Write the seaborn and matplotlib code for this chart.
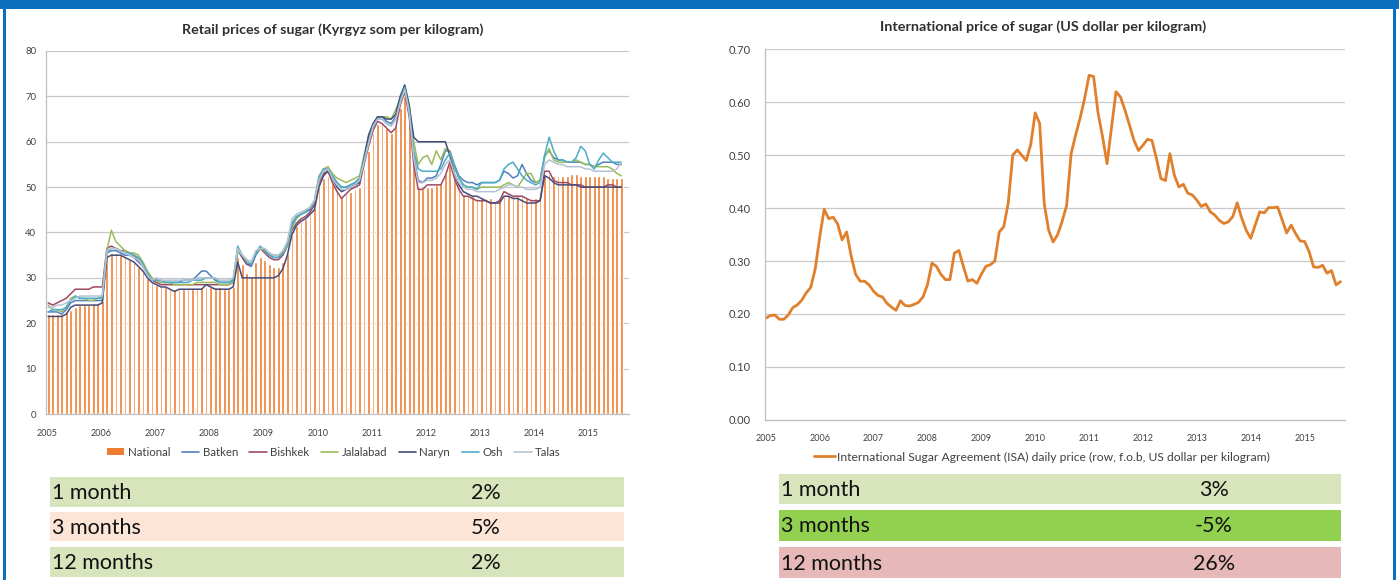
import numpy as np
import pandas as pd
import matplotlib
matplotlib.use("Agg")
import matplotlib.pyplot as plt
from matplotlib.patches import Rectangle, Patch
from matplotlib.lines import Line2D
from matplotlib.ticker import FormatStrFormatter
import seaborn as sns

# Retail prices of sugar, som per kg, monthly from Jan 2005
national = [22, 22, 22, 22, 22.5, 23, 23.5, 24, 24, 24, 24.5, 24.5,
            25, 35, 35.5, 35.5, 35, 34.5, 34, 33.5, 32.5, 31.5, 30, 29,
            28.5, 28, 28, 27.5, 27.5, 27.5, 27.5, 27.5, 27.5, 27.5, 28, 28,
            28, 28, 28, 27.5, 27.5, 28, 34.5, 33, 31, 30.5, 33.5, 34.5,
            34, 33, 32.5, 32.5, 33.5, 35.5, 39.5, 41.5, 42.5, 43, 44, 45.5,
            50, 52, 52.5, 51, 49.5, 48, 48.5, 49, 49.5, 50, 54, 58,
            62, 64, 64, 63, 62, 63.5, 67.5, 70, 65, 55, 50, 49.5,
            50, 50, 50.5, 51, 53, 55, 52, 50, 48.5, 48, 48, 47.5,
            47.5, 47.5, 47.5, 47, 47.5, 48, 48, 48, 48, 48, 47.5, 47.5,
            47.5, 48, 53, 53, 52.5, 52.5, 52.5, 52.5, 53, 53, 52.5, 52.5,
            52.5, 52.5, 52.5, 52.5, 52, 52, 52, 52]
batken = [22.5, 22.5, 22.5, 22, 23, 24.5, 25, 25, 25, 25, 25, 25,
          25, 35.5, 36, 36, 35.5, 35, 35, 34.5, 33.5, 32.5, 31, 29.5,
          29.5, 29, 29, 29, 29, 29, 29.5, 29.5, 29.5, 30.5, 31.5, 31.5,
          30.5, 29.5, 29, 29, 29, 29.5, 36, 34.5, 33, 32.5, 35, 36.5,
          36, 35, 34.5, 34.5, 35.5, 37.5, 42, 43.5, 44, 44.5, 45, 46.5,
          52, 53.5, 54, 52.5, 51, 50, 50, 50.5, 51, 52, 56, 60,
          63.5, 65.5, 65.5, 64.5, 64, 65.5, 69, 72, 67, 57, 51.5, 51,
          52, 52, 52.5, 55, 58, 58, 55, 52.5, 51.5, 51, 51, 50.5,
          51, 51, 51, 51, 51.5, 53.5, 53, 52, 52.5, 55, 53, 51.5,
          51, 51.5, 57, 58, 56.5, 56, 56, 55.5, 55.5, 55.5, 55.5, 55,
          55, 54.5, 55, 55.5, 55.5, 55.5, 55, 55]
bishkek = [24.5, 24, 24.5, 25, 25.5, 26.5, 27.5, 27.5, 27.5, 27.5, 28, 28,
           28, 36.5, 37, 36.5, 36, 36, 35.5, 35, 34, 32.5, 31, 29.5,
           29, 28.5, 28.5, 28.5, 28.5, 28.5, 28.5, 28.5, 28.5, 28.5, 28.5, 28.5,
           28.5, 28.5, 28.5, 28.5, 28.5, 29, 36.5, 34.5, 33, 33, 35.5, 36.5,
           35.5, 34.5, 34, 34, 35, 37, 40.5, 42, 43, 43.5, 44.5, 46,
           51, 53, 53.5, 51, 49, 47.5, 48.5, 49.5, 50, 50.5, 55, 59,
           62.5, 64.5, 64, 63, 62, 63, 68, 71, 65.5, 55, 49.5, 49.5,
           50.5, 50.5, 50.5, 50.5, 52.5, 55.5, 52, 49.5, 48, 48, 47.5, 47,
           47, 47, 46.5, 46.5, 47, 49, 48.5, 48, 48, 48, 47.5, 47,
           47, 47, 53.5, 53.5, 51.5, 51, 51, 51, 50.5, 50.5, 50.5, 50,
           50, 50, 50, 50, 50.5, 50.5, 50, 50]
jalalabad = [24, 23, 23, 22.5, 23.5, 25.5, 26, 25.5, 25.5, 25, 25, 25.5,
             26, 36, 40.5, 38, 37, 36, 35.5, 35.5, 35, 33.5, 31.5, 30,
             29.5, 29, 29, 29, 28.5, 28.5, 28.5, 28.5, 28.5, 29, 29, 29,
             29, 29, 28.5, 28.5, 28.5, 29, 36, 35, 34, 33.5, 35.5, 36.5,
             36, 35.5, 35, 35, 35.5, 37, 41, 43, 44, 44.5, 45.5, 47,
             52.5, 54, 54.5, 53, 52, 51.5, 51, 51.5, 52, 52.5, 57, 61,
             64, 65.5, 65.5, 65.5, 65, 67, 69.5, 72.5, 68, 60, 55, 56.5,
             57, 55, 58, 56, 58.5, 58, 54.5, 52, 50.5, 50, 50, 49.5,
             50, 50, 50, 50, 50, 50.5, 51, 50.5, 50, 51.5, 53, 53,
             51, 51.5, 56.5, 58.5, 56, 55.5, 55.5, 55.5, 55.5, 56, 55.5, 55,
             55, 54.5, 54.5, 54.5, 54.5, 54, 53, 52.5]
naryn = [21.5, 21.5, 21.5, 21.5, 22, 23.5, 24, 24, 24, 24, 24, 24,
         24.5, 34.5, 35, 35, 35, 34.5, 34, 33.5, 32.5, 31.5, 30, 29,
         28.5, 28, 28, 27.5, 27, 27.5, 27.5, 27.5, 27.5, 27.5, 27.5, 28.5,
         28, 27.5, 27.5, 27.5, 27.5, 28, 33.5, 30, 30, 30, 30, 30,
         30, 30, 30, 30.5, 32, 35, 39.5, 41.5, 42.5, 43, 44, 45,
         50, 52.5, 53.5, 52, 50, 49, 49.5, 50, 50.5, 51, 56.5, 61.5,
         64, 65.5, 65.5, 65, 65, 66, 70, 72.5, 68, 61, 60, 60,
         60, 60, 60, 60, 60, 57, 53, 50.5, 49, 48.5, 48, 48,
         47.5, 47, 46.5, 46.5, 46.5, 48, 48, 47.5, 47.5, 47, 46.5, 46.5,
         46.5, 47, 52.5, 52, 51, 50.5, 50.5, 50.5, 50.5, 50.5, 50, 50,
         50, 50, 50, 50, 50, 50, 50, 50]
osh = [22.5, 23, 23, 23, 23.5, 25, 26, 25.5, 25.5, 25.5, 25.5, 25.5,
       25.5, 35.5, 36.5, 36.5, 36, 35.5, 35.5, 35, 34.5, 33, 31, 29.5,
       29.5, 29.5, 29, 29, 29, 29, 29, 29, 29.5, 29.5, 29.5, 30,
       30, 30, 29, 29, 29, 29.5, 37, 35, 33.5, 33, 35.5, 37,
       36, 35, 34.5, 34.5, 35.5, 37.5, 41.5, 43.5, 44, 44.5, 45.5, 47,
       52, 54, 54, 52.5, 51, 50, 50, 50.5, 51, 52, 56, 60,
       63, 65, 65, 64, 63.5, 65, 69, 72, 67, 58, 54, 53.5,
       53.5, 53.5, 53.5, 54, 56, 57.5, 54.5, 52, 50.5, 50, 50, 49.5,
       51, 51, 51, 51, 51.5, 54, 55, 55.5, 54, 52.5, 51.5, 51,
       50.5, 51, 57, 61, 58, 56, 56, 55.5, 55.5, 56.5, 59, 58,
       55, 54, 56, 57.5, 56.5, 55.5, 55.5, 55.5]
talas = [23.5, 23.5, 24, 24, 24.5, 25, 25.5, 26, 26, 26, 26, 26,
         26, 36, 36.5, 36.5, 36, 35.5, 35, 34.5, 34, 32.5, 30.5, 29.5,
         30, 29.5, 29.5, 29.5, 29.5, 29.5, 29.5, 29.5, 29.5, 30, 30, 30,
         30, 30, 29.5, 29.5, 29.5, 30, 36.5, 35, 34, 33.5, 36, 36.5,
         36.5, 35.5, 35, 35, 36, 38, 43, 44, 44.5, 45, 45.5, 47,
         51.5, 53.5, 54, 52, 50.5, 49.5, 49.5, 50, 50.5, 51.5, 55.5, 59.5,
         63.5, 65, 65, 64, 63.5, 65, 68.5, 71.5, 66.5, 56.5, 51, 51,
         51.5, 51.5, 52, 53, 55, 56, 53, 51, 50, 49.5, 49.5, 49,
         49, 49, 49, 49, 49.5, 50, 50.5, 50.5, 50, 50, 49.5, 49.5,
         49.5, 50, 55, 56, 55.5, 55, 55, 54.5, 54.5, 54.5, 54.5, 54,
         54, 53.5, 53.5, 53.5, 53.5, 53.5, 54, 55.5]

# ISA daily price, US dollar per kg, monthly from Jan 2005
isa_price = [0.192, 0.197, 0.198, 0.190, 0.190, 0.198, 0.212, 0.217, 0.226, 0.240, 0.250, 0.285,
             0.345, 0.398, 0.380, 0.383, 0.370, 0.340, 0.355, 0.310, 0.275, 0.262, 0.262, 0.255,
             0.243, 0.235, 0.232, 0.220, 0.213, 0.207, 0.225, 0.216, 0.215, 0.218, 0.222, 0.232,
             0.255, 0.296, 0.290, 0.275, 0.265, 0.265, 0.315, 0.320, 0.290, 0.262, 0.265, 0.258,
             0.275, 0.290, 0.293, 0.300, 0.355, 0.365, 0.410, 0.500, 0.510, 0.500, 0.490, 0.520,
             0.580, 0.560, 0.409, 0.358, 0.336, 0.350, 0.375, 0.405, 0.503, 0.538, 0.570, 0.607,
             0.651, 0.649, 0.580, 0.535, 0.484, 0.553, 0.620, 0.610, 0.585, 0.557, 0.528, 0.509,
             0.519, 0.530, 0.528, 0.494, 0.456, 0.452, 0.503, 0.462, 0.440, 0.445, 0.428, 0.425,
             0.415, 0.403, 0.408, 0.393, 0.387, 0.377, 0.371, 0.374, 0.384, 0.410, 0.381, 0.358,
             0.343, 0.368, 0.393, 0.391, 0.401, 0.401, 0.402, 0.378, 0.353, 0.368, 0.352, 0.338,
             0.337, 0.318, 0.289, 0.288, 0.292, 0.277, 0.282, 0.255, 0.261]

regions = ["Batken", "Bishkek", "Jalalabad", "Naryn", "Osh", "Talas"]
region_prices = [batken, bishkek, jalalabad, naryn, osh, talas]
years = list(range(2005, 2016))

periods = ["1 month", "3 months", "12 months"]
retail_change = ["2%", "5%", "2%"]
world_change = ["3%", "-5%", "26%"]

region_colors = {"Batken": "#4F81BD", "Bishkek": "#A04A62", "Jalalabad": "#9BBB59",
                 "Naryn": "#454C7A", "Osh": "#4BACC6", "Talas": "#B5C2D6"}
orange = "#ED7D31"
grid_c = "#c8c8c8"

sns.set_style("white")
plt.rcParams["font.family"] = ["Lato", "DejaVu Sans"]

W, H = 1399, 580
fig = plt.figure(figsize=(W / 100, H / 100), dpi=100)
fx = lambda px: px / W
fy = lambda py: 1 - py / H

# left: retail prices
ax1 = fig.add_axes([fx(46), fy(414), 583 / W, 363 / H])
xpos = 2005 + (np.arange(len(national)) + 0.3) / 12
df_nat = pd.DataFrame({"x": xpos, "price": national})
sns.barplot(data=df_nat, x="x", y="price", native_scale=True, width=0.6,
            color=orange, saturation=1, errorbar=None, ax=ax1, zorder=2)
long = pd.concat([pd.DataFrame({"x": xpos, "price": p, "region": r})
                  for r, p in zip(regions, region_prices)])
sns.lineplot(data=long, x="x", y="price", hue="region", palette=region_colors,
             linewidth=1.1, legend=False, ax=ax1, zorder=3)

# right: international price
ax2 = fig.add_axes([fx(765), fy(419.8), 580 / W, 370.4 / H])
xisa = 2005 + np.arange(len(isa_price)) / 12
sns.lineplot(x=xisa, y=isa_price, color="#E07F2C", linewidth=2.0, ax=ax2)

for ax, ymax, step in [(ax1, 80, 10), (ax2, 0.7, 0.1)]:
    ax.set_xlim(2004.985, 2004.985 + (583 if ax is ax1 else 580) / (54.3 if ax is ax1 else 54))
    ax.set_ylim(0, ymax)
    ax.set_yticks(np.arange(0, ymax + step / 2, step))
    ax.set_xticks(years)
    ax.set_xticks(2005 + np.arange(0, 130) / 12, minor=True)
    ax.set_xticklabels([str(y) for y in years])
    ax.yaxis.grid(True, color=grid_c, lw=0.9)
    ax.xaxis.grid(False)
    ax.set_axisbelow(True)
    for s in ["top", "right"]:
        ax.spines[s].set_visible(False)
    for s in ["left", "bottom"]:
        ax.spines[s].set_color("#bfbfbf")
        ax.spines[s].set_linewidth(0.9)
    ax.tick_params(axis="x", which="major", length=3, color="#bfbfbf", labelsize=6.5, labelcolor="#404040")
    ax.tick_params(axis="x", which="minor", length=2.5, color="#bfbfbf")
    ax.set_xlabel("")
    ax.set_ylabel("")

ax1.tick_params(axis="x", which="major", pad=8)
ax1.tick_params(axis="y", length=3, color="#bfbfbf", labelsize=6.8, labelcolor="#404040", pad=4)
ax2.tick_params(axis="x", which="major", pad=7)
ax2.tick_params(axis="y", length=3, color="#bfbfbf", labelsize=8, labelcolor="#404040", pad=7)
ax2.yaxis.set_major_formatter(FormatStrFormatter("%.2f"))

fig.text(fx(333), fy(30), "Retail prices of sugar (Kyrgyz som per kilogram)",
         ha="center", va="center", fontsize=10.3, fontweight="bold", color="#303030")
fig.text(fx(1043), fy(27), "International price of sugar (US dollar per kilogram)",
         ha="center", va="center", fontsize=10.4, fontweight="bold", color="#303030")

handles = [Patch(facecolor=orange, edgecolor="none")] + \
          [Line2D([], [], color=region_colors[r], lw=1.2) for r in regions]
fig.legend(handles, ["National"] + regions, loc="center", bbox_to_anchor=(fx(334), fy(452)),
           ncol=7, frameon=False, fontsize=8.3, handlelength=1.5, handleheight=0.6,
           columnspacing=1.0, handletextpad=0.3, labelcolor="#404040")
fig.legend([Line2D([], [], color="#E07F2C", lw=2)],
           ["International Sugar Agreement (ISA) daily price (row, f.o.b, US dollar per kilogram)"],
           loc="center", bbox_to_anchor=(fx(1042), fy(457)), frameon=False, fontsize=8.7,
           handlelength=1.7, handletextpad=0.2, labelcolor="#404040")

# change tables below the charts
def table(x0, x1, tops, bottoms, colors, values, xval):
    for top, bot, c, lab, val in zip(tops, bottoms, colors, periods, values):
        fig.patches.append(Rectangle((fx(x0), fy(bot)), (x1 - x0) / W, (bot - top) / H,
                                     transform=fig.transFigure, facecolor=c, edgecolor="none"))
        yc = fy((top + bot) / 2 + 1)
        fig.text(fx(x0 + 2), yc, lab, ha="left", va="center", fontsize=15.5, color="#111111")
        fig.text(fx(xval), yc, val, ha="center", va="center", fontsize=15.5, color="#111111")

table(50, 624, [477, 512, 547], [507, 541, 577], ["#D8E4BC", "#FCE4D6", "#D8E4BC"], retail_change, 486)
table(779, 1341, [474, 510, 547], [504, 541, 578], ["#D8E4BC", "#92D050", "#E6B8B7"], world_change, 1214)

# blue frame
blue = "#0B6FC0"
for (x, y, w, h) in [(0, 0, W, 9), (3, 0, 2.5, H), (1393, 0, 3, H)]:
    fig.patches.append(Rectangle((fx(x), fy(y + h)), w / W, h / H, transform=fig.transFigure,
                                 facecolor=blue, edgecolor="none", zorder=5))

fig.savefig("out.png", dpi=100)
